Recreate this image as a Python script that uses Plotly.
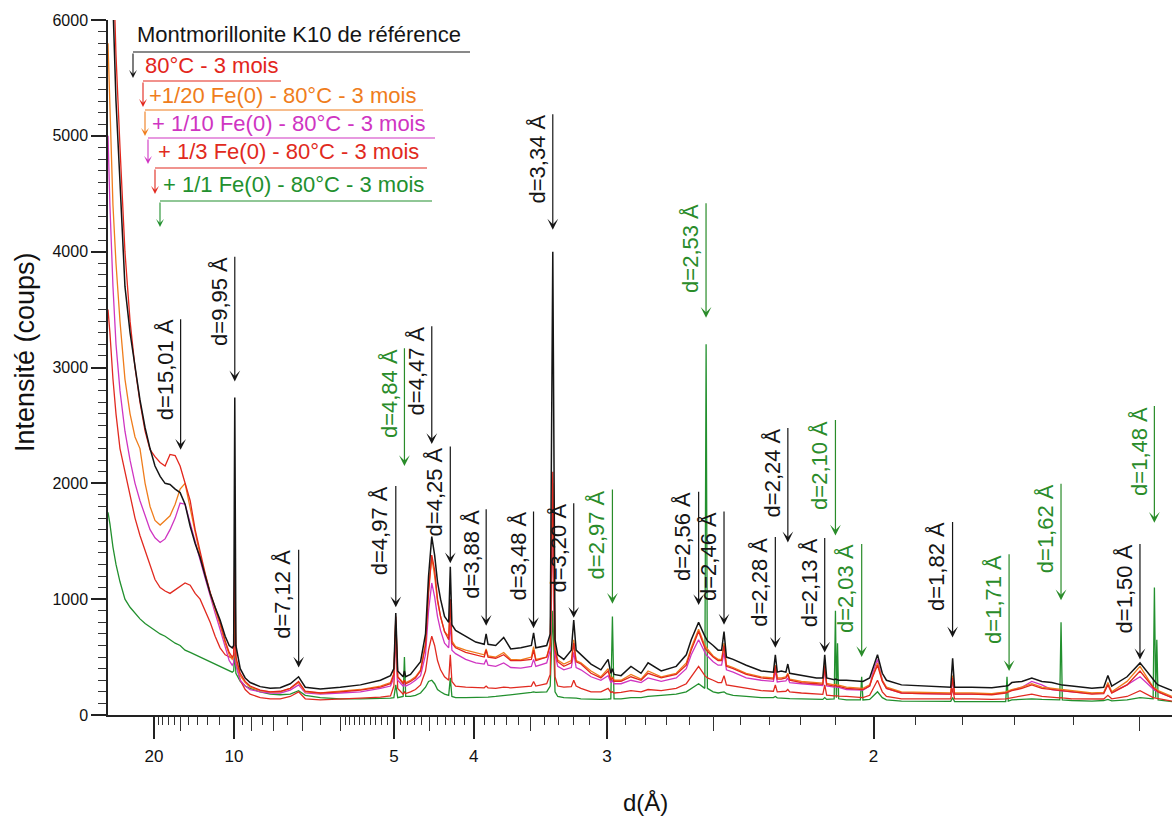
import plotly.graph_objects as go

# ---------------- data (x = 1/d in Å^-1, y = counts) ----------------
inv_d = [
    0.0212, 0.0224, 0.0243, 0.0262, 0.0287, 0.0318, 0.0350, 0.0381, 0.0412, 0.0444,
    0.0475, 0.0506, 0.0538, 0.0569, 0.0600, 0.0632, 0.0663, 0.0694, 0.0726, 0.0757,
    0.0788, 0.0820, 0.0851, 0.0882, 0.0913, 0.0945, 0.0970, 0.0989, 0.0998, 0.1005,
    0.1012, 0.1039, 0.1070, 0.1101, 0.1164, 0.1227, 0.1289, 0.1352, 0.1404, 0.1446,
    0.1540, 0.1665, 0.1791, 0.1916, 0.1979, 0.2000, 0.2012, 0.2024, 0.2058, 0.2066,
    0.2074, 0.2104, 0.2135, 0.2167, 0.2198, 0.2217, 0.2237, 0.2255, 0.2273, 0.2292,
    0.2317, 0.2343, 0.2353, 0.2363, 0.2386, 0.2449, 0.2512, 0.2565, 0.2577, 0.2589,
    0.2637, 0.2687, 0.2731, 0.2794, 0.2860, 0.2874, 0.2888, 0.2956, 0.2978, 0.2994,
    0.3008, 0.3025, 0.3063, 0.3110, 0.3125, 0.3140, 0.3170, 0.3233, 0.3295, 0.3340,
    0.3357, 0.3367, 0.3377, 0.3421, 0.3483, 0.3546, 0.3590, 0.3672, 0.3766, 0.3829,
    0.3860, 0.3906, 0.3945, 0.3953, 0.3961, 0.3997, 0.4028, 0.4050, 0.4065, 0.4080,
    0.4122, 0.4204, 0.4298, 0.4374, 0.4386, 0.4398, 0.4423, 0.4452, 0.4464, 0.4476,
    0.4549, 0.4643, 0.4683, 0.4695, 0.4707, 0.4754, 0.4762, 0.4768, 0.4775, 0.4782,
    0.4831, 0.4918, 0.4926, 0.4934, 0.4976, 0.4995, 0.5025, 0.5055, 0.5081, 0.5175,
    0.5301, 0.5483, 0.5495, 0.5507, 0.5614, 0.5740, 0.5827, 0.5835, 0.5843, 0.5865,
    0.5928, 0.5990, 0.6053, 0.6115, 0.6165, 0.6173, 0.6181, 0.6241, 0.6366, 0.6440,
    0.6466, 0.6490, 0.6586, 0.6667, 0.6749, 0.6757, 0.6765, 0.6772, 0.6780, 0.6867,
]

int_ref = [
    7500, 7000, 6100, 5300, 4600, 3700, 3300, 3000, 2720, 2480,
    2300, 2150, 2060, 2000, 1990, 1950, 1920, 1820, 1630, 1480,
    1360, 1200, 1050, 930, 820, 680, 600, 580, 600, 2740,
    600, 400, 320, 280, 245, 230, 235, 270, 330, 240,
    225, 240, 260, 300, 340, 400, 880, 380, 330, 380,
    330, 350, 400, 460, 700, 1200, 1540, 1380, 1150, 1000,
    850, 800, 1280, 780, 730, 680, 630, 610, 700, 610,
    600, 670, 570, 580, 600, 710, 580, 600, 700, 4000,
    650, 520, 480, 560, 820, 560, 520, 440, 390, 480,
    360, 400, 350, 340, 420, 360, 450, 380, 420, 520,
    650, 800, 680, 660, 640, 600, 560, 560, 720, 500,
    480, 430, 380, 370, 520, 370, 380, 370, 440, 360,
    340, 320, 320, 520, 320, 305, 310, 305, 305, 300,
    300, 290, 292, 290, 320, 400, 520, 360, 300, 260,
    250, 240, 490, 240, 240, 235, 250, 255, 255, 280,
    290, 320, 290, 280, 260, 262, 258, 250, 230, 240,
    340, 250, 330, 450, 300, 290, 280, 270, 260, 210,
]

int_80c = [
    8000, 7400, 6500, 5700, 4900, 4000, 3400, 3000, 2700, 2450,
    2290, 2230, 2180, 2150, 2250, 2240, 2150, 2000, 1850, 1600,
    1400, 1220, 1060, 930, 800, 640, 540, 500, 520, 1400,
    500, 360, 290, 250, 215, 200, 205, 230, 290, 205,
    190, 200, 215, 240, 270, 350, 850, 330, 270, 300,
    270, 290, 320, 380, 600, 1050, 1380, 1250, 1000, 850,
    720, 650, 1000, 620, 580, 540, 520, 500, 560, 500,
    490, 520, 470, 470, 480, 560, 470, 500, 600, 2100,
    560, 460, 420, 450, 620, 460, 440, 360, 320, 380,
    300, 320, 290, 290, 330, 300, 360, 320, 350, 430,
    560, 720, 580, 560, 550, 500, 470, 470, 600, 420,
    400, 350, 320, 310, 420, 310, 310, 320, 350, 300,
    280, 270, 265, 420, 262, 250, 255, 250, 250, 248,
    230, 220, 222, 220, 250, 330, 430, 290, 230, 190,
    185, 180, 320, 180, 180, 175, 190, 195, 195, 210,
    230, 260, 230, 220, 210, 212, 208, 200, 180, 185,
    260, 190, 260, 380, 230, 225, 220, 210, 200, 150,
]

int_fe20 = [
    5800, 5200, 4400, 3900, 3400, 2900, 2600, 2400, 2300, 2000,
    1800, 1680, 1640, 1680, 1720, 1820, 1950, 2000, 1800, 1580,
    1380, 1210, 1050, 910, 780, 620, 520, 480, 500, 1000,
    480, 340, 280, 240, 210, 200, 200, 230, 280, 200,
    190, 205, 220, 250, 280, 360, 820, 330, 280, 300,
    280, 300, 330, 390, 620, 1100, 1360, 1200, 980, 850,
    720, 680, 1000, 640, 590, 560, 535, 520, 570, 510,
    500, 540, 480, 475, 500, 590, 480, 500, 620, 2000,
    580, 475, 440, 470, 650, 470, 450, 380, 330, 400,
    310, 330, 300, 300, 350, 310, 380, 330, 360, 450,
    580, 740, 600, 580, 570, 510, 480, 480, 620, 430,
    410, 360, 330, 320, 430, 320, 320, 330, 360, 310,
    290, 280, 275, 440, 272, 260, 265, 260, 260, 258,
    240, 230, 232, 230, 260, 340, 450, 300, 240, 200,
    195, 190, 340, 190, 190, 185, 200, 205, 205, 220,
    240, 270, 240, 230, 220, 222, 218, 210, 190, 195,
    280, 200, 290, 420, 240, 235, 230, 220, 210, 160,
]

int_fe10 = [
    5000, 4400, 3700, 3200, 2800, 2450, 2200, 2000, 1850, 1720,
    1600, 1530, 1490, 1520, 1600, 1700, 1830, 1820, 1650, 1500,
    1340, 1180, 1020, 880, 740, 580, 470, 430, 450, 850,
    430, 300, 250, 220, 200, 190, 190, 215, 260, 190,
    180, 190, 200, 230, 250, 320, 750, 300, 250, 270,
    250, 270, 300, 340, 520, 900, 1140, 1020, 850, 730,
    620, 580, 800, 560, 530, 480, 450, 440, 480, 430,
    420, 450, 410, 405, 420, 480, 420, 450, 560, 1850,
    520, 420, 390, 410, 540, 410, 390, 330, 300, 340,
    280, 300, 270, 270, 300, 280, 320, 290, 320, 400,
    520, 650, 540, 520, 510, 460, 430, 430, 540, 390,
    370, 320, 300, 290, 380, 285, 290, 295, 320, 280,
    270, 260, 255, 400, 250, 240, 245, 240, 240, 238,
    220, 215, 217, 215, 250, 360, 480, 300, 230, 190,
    185, 180, 300, 180, 180, 180, 195, 200, 200, 215,
    240, 290, 260, 220, 210, 212, 208, 200, 185, 190,
    270, 195, 260, 330, 220, 215, 210, 205, 200, 150,
]

int_fe3 = [
    3500, 3300, 2900, 2600, 2300, 2100, 1900, 1700, 1550, 1420,
    1300, 1170, 1100, 1070, 1050, 1080, 1110, 1140, 1120, 1050,
    1000, 900, 800, 680, 580, 520, 500, 490, 500, 950,
    450, 300, 220, 180, 150, 140, 140, 160, 200, 140,
    130, 135, 145, 155, 165, 250, 700, 230, 180, 200,
    185, 200, 220, 260, 380, 560, 680, 600, 470, 390,
    330, 300, 520, 290, 250, 240, 235, 235, 250, 235,
    230, 240, 235, 240, 250, 290, 250, 270, 350, 1700,
    330, 250, 240, 245, 300, 250, 230, 200, 200, 230,
    195, 200, 190, 195, 210, 200, 220, 210, 230, 270,
    330, 420, 340, 330, 320, 300, 280, 280, 340, 260,
    250, 230, 210, 205, 260, 200, 200, 205, 220, 200,
    190, 180, 178, 260, 172, 165, 168, 165, 165, 163,
    160, 150, 152, 150, 170, 220, 300, 200, 160, 140,
    140, 140, 230, 140, 140, 135, 140, 142, 142, 150,
    160, 180, 160, 150, 148, 150, 147, 140, 135, 138,
    170, 140, 160, 210, 150, 148, 146, 144, 142, 120,
]

int_fe1 = [
    1750, 1650, 1450, 1300, 1150, 1000, 930, 880, 830, 790,
    760, 730, 700, 680, 650, 620, 600, 560, 540, 520,
    500, 480, 460, 440, 420, 400, 380, 370, 380, 540,
    360, 290, 250, 230, 200, 180, 175, 180, 210, 170,
    150, 140, 140, 140, 145, 150, 260, 150, 160, 500,
    160, 160, 170, 190, 240, 290, 300, 270, 220, 200,
    180, 170, 320, 160, 150, 150, 150, 152, 155, 155,
    160, 170, 175, 185, 195, 200, 195, 200, 250, 900,
    200, 160, 150, 150, 150, 145, 140, 135, 135, 138,
    140, 850, 140, 140, 150, 150, 160, 170, 180, 200,
    230, 270, 230, 3200, 230, 200, 190, 195, 200, 185,
    170, 160, 150, 150, 160, 148, 145, 145, 145, 142,
    140, 135, 135, 150, 135, 140, 900, 150, 620, 140,
    130, 130, 330, 130, 135, 160, 200, 150, 130, 120,
    120, 118, 150, 116, 115, 115, 115, 330, 120, 130,
    135, 140, 135, 130, 130, 800, 130, 125, 120, 125,
    135, 122, 130, 150, 140, 1100, 150, 650, 130, 115,
]

series_names = [
    "Montmorillonite K10 de référence",
    "80°C - 3 mois",
    "+1/20 Fe(0) - 80°C - 3 mois",
    "+ 1/10 Fe(0) - 80°C - 3 mois",
    "+ 1/3 Fe(0) - 80°C - 3 mois",
    "+ 1/1 Fe(0) - 80°C - 3 mois",
]

# peak annotations
peak_d = [15.01, 9.95, 7.12, 4.97, 4.84, 4.47, 4.25, 3.88, 3.48, 3.34, 3.20, 2.97, 2.56,
          2.53, 2.46, 2.28, 2.24, 2.13, 2.10, 2.03, 1.82, 1.71, 1.62, 1.50, 1.48]
peak_group = ["k", "k", "k", "k", "g", "k", "k", "k", "k", "k", "k", "g", "k",
              "g", "k", "k", "k", "k", "g", "g", "k", "g", "g", "k", "g"]
arrow_top = [3430, 3970, 1440, 1990, 3180, 3370, 2330, 1790, 1770, 5200, 1840, 1960, 1940,
             4430, 1770, 1550, 2490, 1540, 2560, 1490, 1680, 1400, 2010, 1490, 2680]
arrow_tip = [2290, 2880, 410, 930, 2150, 2340, 1310, 770, 750, 4190, 840, 960, 950,
             3430, 780, 580, 1490, 540, 1550, 500, 670, 380, 990, 480, 1660]

# axis ticks (in d, Å)
tick_d = [20, 10, 5, 4, 3, 2]
tick_text = ["20", "10", "5", "4", "3", "2"]
mid_tick_d = [15, 9, 8, 7, 6, 4.5, 3.5, 2.5, 1.5]
minor_tick_d = ([19, 18, 17, 16, 14, 13, 12, 11, 9.5, 8.5, 7.5, 6.5]
                + [5.9, 5.8, 5.7, 5.6, 5.5, 5.4, 5.3, 5.2, 5.1]
                + [4.9, 4.8, 4.7, 4.6, 4.4, 4.3, 4.2, 4.1]
                + [3.9, 3.8, 3.7, 3.6, 3.4, 3.3, 3.2, 3.1]
                + [2.9, 2.8, 2.7, 2.6, 2.4, 2.3, 2.2, 2.1]
                + [1.9, 1.8, 1.7, 1.6])
y_ticks = [0, 1000, 2000, 3000, 4000, 5000, 6000]

# ---------------- styling ----------------
FONT = "Arial, Liberation Sans, Helvetica, sans-serif"
colors = ["#151515", "#e3261c", "#ef7d1c", "#cf35c2", "#e12a20", "#22902e"]
label_colors = {"k": "#151515", "g": "#2a8c2a"}
X_RANGE = [0.0212, 0.6867]

W, H = 1174, 817
ML, MR, MT, MB = 108, 2, 20, 102
PW, PH = W - ML - MR, H - MT - MB


def px(xp):
    return (xp - ML) / PW


def py(yp):
    return (H - MB - yp) / PH


fig = go.Figure()

series = [int_ref, int_80c, int_fe20, int_fe10, int_fe3, int_fe1]
for idx in [5, 4, 3, 2, 1, 0]:
    fig.add_trace(go.Scatter(
        x=inv_d, y=series[idx], mode="lines", name=series_names[idx],
        line=dict(color=colors[idx], width=1.5 if idx == 0 else 1.3),
        showlegend=False, hoverinfo="skip"))

# helper trace for the medium-length tick marks axis
fig.add_trace(go.Scatter(x=[X_RANGE[0]], y=[None], xaxis="x2", yaxis="y",
                         mode="lines", showlegend=False, hoverinfo="skip"))

annotations = []
for d, grp, top, tip in zip(peak_d, peak_group, arrow_top, arrow_tip):
    col = label_colors[grp]
    xq = 1.0 / d
    annotations.append(dict(x=xq, y=tip, ax=xq, ay=top, xref="x", yref="y",
                            axref="x", ayref="y", text="", showarrow=True,
                            arrowhead=3, arrowsize=1.5, arrowwidth=1.2,
                            arrowcolor=col, standoff=0))
    annotations.append(dict(x=xq, y=top, xref="x", yref="y",
                            text=("d=%.2f Å" % d).replace(".", ","),
                            textangle=-90, xanchor="right", yanchor="top",
                            showarrow=False, xshift=-1,
                            font=dict(family=FONT, size=22, color=col)))

# legend-like labels with bracket arrows
leg_text_left = [135, 143, 147, 150, 156, 161]
leg_text_cy = [35, 65, 95, 123, 152, 185]
leg_line_y = [52, 81, 110, 138, 168, 201]
leg_line_x0 = [133, 143, 145, 148, 155, 160]
leg_line_x1 = [470, 281, 423, 435, 427, 432]
leg_arrow_len = 26
shapes = []
for i, name in enumerate(series_names):
    col = colors[i]
    annotations.append(dict(x=px(leg_text_left[i]), y=py(leg_text_cy[i]),
                            xref="paper", yref="paper", text=name,
                            xanchor="left", yanchor="middle", showarrow=False,
                            font=dict(family=FONT, size=22, color=col)))
    shapes.append(dict(type="line", xref="paper", yref="paper",
                       x0=px(leg_line_x0[i]), x1=px(leg_line_x1[i]),
                       y0=py(leg_line_y[i]), y1=py(leg_line_y[i]),
                       line=dict(color=col, width=1.2)))
    annotations.append(dict(x=px(leg_line_x0[i]), y=py(leg_line_y[i] + leg_arrow_len),
                            xref="paper", yref="paper", ax=0, ay=-leg_arrow_len,
                            text="", showarrow=True, arrowhead=3, arrowsize=1.2,
                            arrowwidth=1.1, arrowcolor=col, standoff=0))

# axis titles
annotations.append(dict(x=px(25), y=py(352), xref="paper", yref="paper",
                        text="Intensité (coups)", textangle=-90, showarrow=False,
                        xanchor="center", yanchor="middle",
                        font=dict(family=FONT, size=27, color="#111")))
annotations.append(dict(x=px(645), y=py(802), xref="paper", yref="paper",
                        text="d(Å)", showarrow=False, xanchor="center",
                        yanchor="middle", font=dict(family=FONT, size=24, color="#111")))

fig.update_layout(
    template="none",
    width=W, height=H,
    margin=dict(l=ML, r=MR, t=MT, b=MB, autoexpand=False),
    paper_bgcolor="white", plot_bgcolor="white",
    showlegend=False,
    font=dict(family=FONT, color="#111"),
    xaxis=dict(range=X_RANGE, tickmode="array", automargin=False,
               tickvals=[1.0 / d for d in tick_d], ticktext=tick_text,
               ticks="outside", ticklen=22, tickwidth=1.5, tickcolor="#222",
               showline=True, linecolor="#222", linewidth=1.5,
               showgrid=False, zeroline=False,
               tickfont=dict(family=FONT, size=17, color="#111"),
               ticklabelstandoff=3,
               minor=dict(tickmode="array", tickvals=[1.0 / d for d in minor_tick_d],
                          ticks="outside", ticklen=8, tickwidth=1, tickcolor="#333",
                          showgrid=False)),
    xaxis2=dict(overlaying="x", anchor="y", side="bottom", range=X_RANGE,
                tickmode="array", tickvals=[1.0 / d for d in mid_tick_d],
                ticks="outside", ticklen=15, tickwidth=1.2, tickcolor="#333",
                showticklabels=False, showline=False, showgrid=False, zeroline=False),
    yaxis=dict(range=[0, 6000], tickmode="array", tickvals=y_ticks, automargin=False,
               ticktext=[str(v) for v in y_ticks],
               ticks="outside", ticklen=15, tickwidth=1.5, tickcolor="#222",
               showline=True, linecolor="#222", linewidth=1.5,
               showgrid=False, zeroline=False,
               tickfont=dict(family=FONT, size=16, color="#111"),
               minor=dict(dtick=100, ticks="outside", ticklen=8, tickwidth=1,
                          tickcolor="#333", showgrid=False)),
    annotations=annotations,
    shapes=shapes,
)

fig.write_html("out.html", config={"displayModeBar": False},
               post_script="document.body.style.margin='0';")
